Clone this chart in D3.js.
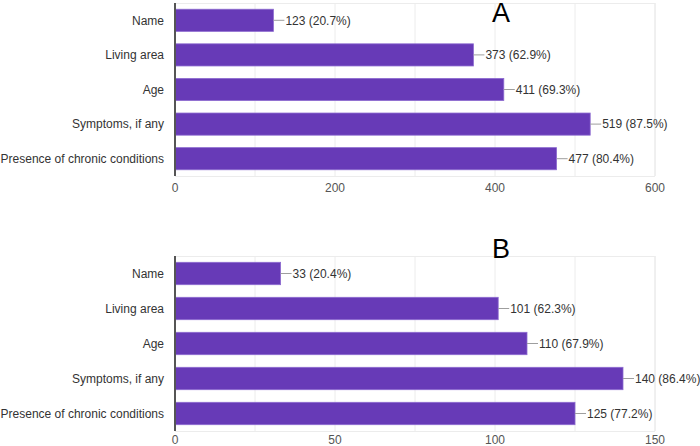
<!DOCTYPE html>
<html>
<head>
<meta charset="utf-8">
<script src="https://cdn.jsdelivr.net/npm/d3@7"></script>
<style>
  body { margin: 0; background: #fff; }
  text { font-family: "Liberation Sans", Arial, sans-serif; }
</style>
</head>
<body>
<div id="chart"></div>
<script>
  // categories and counts for both panels
  var categories = ["Name", "Living area", "Age", "Symptoms, if any", "Presence of chronic conditions"];
  var valuesA = [123, 373, 411, 519, 477];
  var percentA = ["20.7%", "62.9%", "69.3%", "87.5%", "80.4%"];
  var valuesB = [33, 101, 110, 140, 125];
  var percentB = ["20.4%", "62.3%", "67.9%", "86.4%", "77.2%"];
  var ticksA = [0, 200, 400, 600], gridA = [100, 200, 300, 400, 500, 600];
  var ticksB = [0, 50, 100, 150], gridB = [25, 50, 75, 100, 125, 150];

  var W = 700, H = 446;
  var svg = d3.select("#chart").append("svg")
      .attr("width", W)
      .attr("height", H);

  function panel(letter, values, pct, maxV, ticks, grid, top, bottom, letterY, tickY) {
    var x = d3.scaleLinear().domain([0, maxV]).range([175, 655]);
    var y = d3.scaleBand().domain(categories).range([top, bottom]).paddingInner(0.36).paddingOuter(0.18);
    var g = svg.append("g");

    // grid lines
    g.selectAll(".grid").data(grid).enter().append("line")
      .attr("x1", d => x(d)).attr("x2", d => x(d))
      .attr("y1", top).attr("y2", bottom)
      .attr("stroke", d => d == maxV ? "#e0e0e0" : "#ececec")
      .attr("stroke-width", 1);
    // top and bottom border
    g.append("line").attr("x1", 175).attr("x2", 655).attr("y1", top + 0.5).attr("y2", top + 0.5)
      .attr("stroke", "#ececec");
    g.append("line").attr("x1", 175).attr("x2", 655).attr("y1", bottom + 0.5).attr("y2", bottom + 0.5)
      .attr("stroke", "#ececec");

    // bars
    g.selectAll(".bar").data(values).enter().append("rect")
      .attr("x", x(0))
      .attr("y", (d, i) => y(categories[i]))
      .attr("width", d => x(d) - x(0))
      .attr("height", y.bandwidth())
      .attr("fill", "#673ab7")
      .attr("stroke", "#8d6bd0")
      .attr("stroke-width", 0.8);

    // connectors + value labels
    g.selectAll(".conn").data(values).enter().append("line")
      .attr("x1", d => x(d)).attr("x2", d => x(d) + 11)
      .attr("y1", (d, i) => y(categories[i]) + y.bandwidth() / 2)
      .attr("y2", (d, i) => y(categories[i]) + y.bandwidth() / 2)
      .attr("stroke", "#9e9e9e");
    g.selectAll(".val").data(values).enter().append("text")
      .attr("x", d => x(d) + 12)
      .attr("y", (d, i) => y(categories[i]) + y.bandwidth() / 2)
      .attr("dy", "0.35em")
      .attr("font-size", 12)
      .attr("fill", "#333")
      .text((d, i) => d + " (" + pct[i] + ")");

    // category labels
    g.selectAll(".cat").data(categories).enter().append("text")
      .attr("x", 164)
      .attr("y", d => y(d) + y.bandwidth() / 2)
      .attr("dy", "0.35em")
      .attr("text-anchor", "end")
      .attr("font-size", 12)
      .attr("fill", "#333")
      .text(d => d);

    // axis line
    g.append("line").attr("x1", 175).attr("x2", 175).attr("y1", top).attr("y2", bottom)
      .attr("stroke", "#555").attr("stroke-width", 2);

    // tick labels
    g.selectAll(".tick").data(ticks).enter().append("text")
      .attr("x", d => x(d))
      .attr("y", tickY)
      .attr("text-anchor", "middle")
      .attr("font-size", 12)
      .attr("fill", "#555")
      .text(d => d);

    // panel letter
    svg.append("text")
      .attr("x", 501).attr("y", letterY)
      .attr("text-anchor", "middle")
      .attr("font-size", 27)
      .attr("fill", "#000")
      .text(letter);
  }

  panel("A", valuesA, percentA, 600, ticksA, gridA, 3, 176, 22, 192);
  panel("B", valuesB, percentB, 150, ticksB, gridB, 256, 431, 258, 444);
</script>
</body>
</html>
